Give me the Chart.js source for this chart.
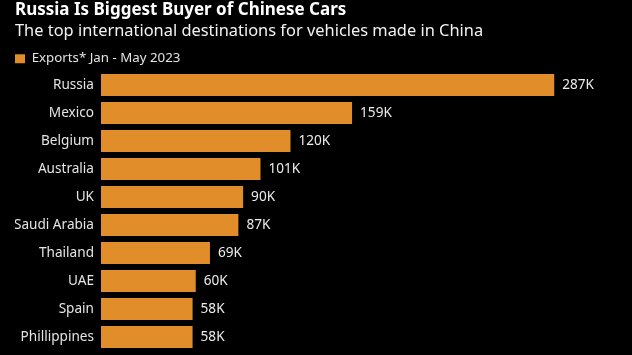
<!DOCTYPE html>
<html>
<head>
<meta charset="utf-8">
<script src="https://cdn.jsdelivr.net/npm/chart.js@4"></script>
<style>
  html, body { margin: 0; padding: 0; background: #000; }
  #wrap { width: 632px; height: 355px; }
</style>
</head>
<body>
<div id="wrap"><canvas id="c" width="632" height="355"></canvas></div>
<script>
const categories = ["Russia", "Mexico", "Belgium", "Australia", "UK", "Saudi Arabia", "Thailand", "UAE", "Spain", "Phillippines"];
const exportsK = [287, 159, 120, 101, 90, 87, 69, 60, 58, 58];
const valueLabels = ["287K", "159K", "120K", "101K", "90K", "87K", "69K", "60K", "58K", "58K"];
const seriesName = "Exports* Jan - May 2023";
const titleText = "Russia Is Biggest Buyer of Chinese Cars";
const subtitleText = "The top international destinations for vehicles made in China";

const FONT = "'Noto Sans'";
const BAR = "#E08D2A";

const valueLabelPlugin = {
  id: "valueLabels",
  afterLayout(chart) {
    // nudge the legend row down a little (it may sit slightly into the top padding of the plot)
    if (chart.legend) { chart.legend.top += 4.3; chart.legend.bottom += 4.3; }
  },
  afterDatasetsDraw(chart) {
    const ctx = chart.ctx;
    const meta = chart.getDatasetMeta(0);
    ctx.save();
    ctx.fillStyle = "#ececec";
    ctx.font = "13.6px " + FONT;
    ctx.textBaseline = "middle";
    ctx.textAlign = "left";
    meta.data.forEach((bar, i) => {
      ctx.fillText(valueLabels[i], bar.x + 8, bar.y);
    });
    ctx.restore();
  }
};

new Chart(document.getElementById("c"), {
  type: "bar",
  data: {
    labels: categories,
    datasets: [{
      label: seriesName,
      data: exportsK,
      backgroundColor: BAR,
      borderWidth: 0,
      barPercentage: 0.786,
      categoryPercentage: 1
    }]
  },
  options: {
    indexAxis: "y",
    responsive: false,
    devicePixelRatio: 1,
    animation: false,
    layout: { padding: { left: 15, right: 32, top: 1.8, bottom: 4 } },
    scales: {
      x: { display: false, min: 0, max: 316 },
      y: {
        grid: { display: false, drawTicks: false },
        border: { display: false },
        ticks: { color: "#e4e4e4", font: { family: FONT, size: 13.6 }, padding: 7 },
        afterFit(s) { s.width = 86; s.paddingTop = 0; s.paddingBottom = 0; }
      }
    },
    plugins: {
      title: {
        display: true, text: titleText, align: "start", color: "#ffffff",
        font: { family: FONT, size: 17, weight: "bold", lineHeight: 1 }, padding: { top: 0, bottom: 4.5 }
      },
      subtitle: {
        display: true, text: subtitleText, align: "start", color: "#f2f2f2",
        font: { family: FONT, size: 16.4, weight: "normal", lineHeight: 1 }, padding: { top: 0, bottom: 8.0 }
      },
      legend: {
        display: true, align: "start",
        labels: { color: "#e4e4e4", boxWidth: 10, boxHeight: 9, padding: 0, font: { family: FONT, size: 13.3 } }
      },
      tooltip: { enabled: false }
    }
  },
  plugins: [valueLabelPlugin]
});
</script>
</body>
</html>
